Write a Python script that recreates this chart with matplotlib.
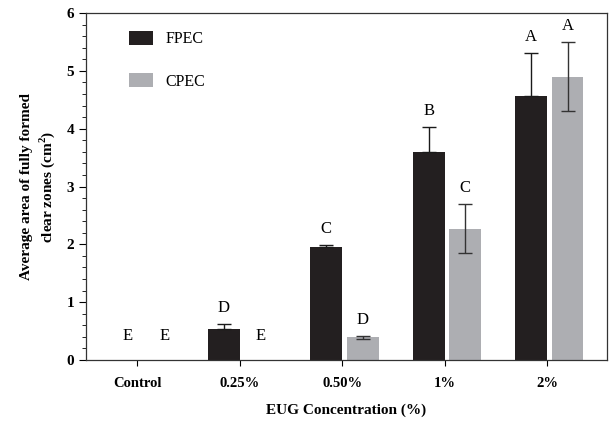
import matplotlib
matplotlib.use("Agg")
import matplotlib.pyplot as plt
import numpy as np
from matplotlib.patches import Patch
from matplotlib.ticker import MultipleLocator

categories = ["Control", "0.25%", "0.50%", "1%", "2%"]
fpec_mean = [0.0, 0.54, 1.96, 3.60, 4.57]
fpec_err = [0.0, 0.08, 0.02, 0.43, 0.73]
cpec_mean = [0.0, 0.0, 0.39, 2.27, 4.90]
cpec_err = [0.0, 0.0, 0.02, 0.42, 0.60]
fpec_letters = ["E", "D", "C", "B", "A"]
cpec_letters = ["E", "E", "D", "C", "A"]

plt.rcParams['font.family'] = ['Liberation Serif', 'DejaVu Serif']
plt.rcParams['mathtext.fontset'] = 'custom'
plt.rcParams['mathtext.rm'] = 'Liberation Serif'
plt.rcParams['mathtext.bf'] = 'Liberation Serif:bold'

fig = plt.figure(figsize=(6.11, 4.23), dpi=100)
ax = fig.add_axes([0.1408, 0.1489, 0.8527, 0.8204])

x = np.arange(len(categories))
w = 0.31
gap = 0.045
xf = x - w / 2
xc = x + w / 2 + gap

c_f = '#231f20'
c_c = '#adaeb2'
ax.bar(xf, fpec_mean, width=w, color=c_f, zorder=2)
ax.bar(xc, cpec_mean, width=w, color=c_c, zorder=2)

for i in range(len(x)):
    if fpec_err[i] > 0:
        ax.errorbar(xf[i], fpec_mean[i], yerr=[[0], [fpec_err[i]]], color='#1a1a1a',
                    capsize=5, elinewidth=1, capthick=1, zorder=3)
    if cpec_err[i] > 0:
        ax.errorbar(xc[i], cpec_mean[i], yerr=cpec_err[i], color='#333333',
                    capsize=5, elinewidth=1, capthick=1, zorder=3)

def ly(m, e):
    return 0.415 if m == 0 else m + e + 0.28

for i in range(len(x)):
    ax.text(xf[i] + (0.06 if i == 0 else 0), ly(fpec_mean[i], fpec_err[i]), fpec_letters[i],
            ha='center', va='center', fontsize=12)
    ax.text(xc[i] + (0.07 if i == 0 else 0), ly(cpec_mean[i], cpec_err[i]), cpec_letters[i],
            ha='center', va='center', fontsize=12)

ax.set_xlim(-0.5, 4.585)
ax.set_ylim(0, 6)
ax.set_xticks(x)
ax.set_xticklabels(categories, fontweight='bold', fontsize=10.5)
ax.set_yticks(range(7))
ax.set_yticklabels([str(v) for v in range(7)], fontweight='bold', fontsize=11)
ax.yaxis.set_minor_locator(MultipleLocator(0.2))
ax.tick_params(axis='x', direction='out', length=4, width=0.8, pad=8, top=False)
ax.tick_params(axis='y', which='major', direction='out', length=5, width=0.8, right=False)
ax.tick_params(axis='y', which='minor', direction='out', length=3, width=0.6, right=False)
for s in ax.spines.values():
    s.set_linewidth(0.9)
    s.set_color('#333333')

ax.set_xlabel('EUG Concentration (%)', fontweight='bold', fontsize=11, labelpad=10)
ax.set_ylabel('Average area of fully formed\nclear zones (cm$^{\\mathbf{2}}$)',
              fontweight='bold', fontsize=11, labelpad=7, linespacing=1.3)

handles = [Patch(facecolor=c_f, label='FPEC'), Patch(facecolor=c_c, label='CPEC')]
ax.legend(handles=handles, loc='upper left', bbox_to_anchor=(0.055, 0.99), frameon=False,
          fontsize=11.5, labelspacing=1.6, handlelength=1.5, handleheight=1.0,
          handletextpad=0.8)

fig.savefig('out.png', dpi=100)
